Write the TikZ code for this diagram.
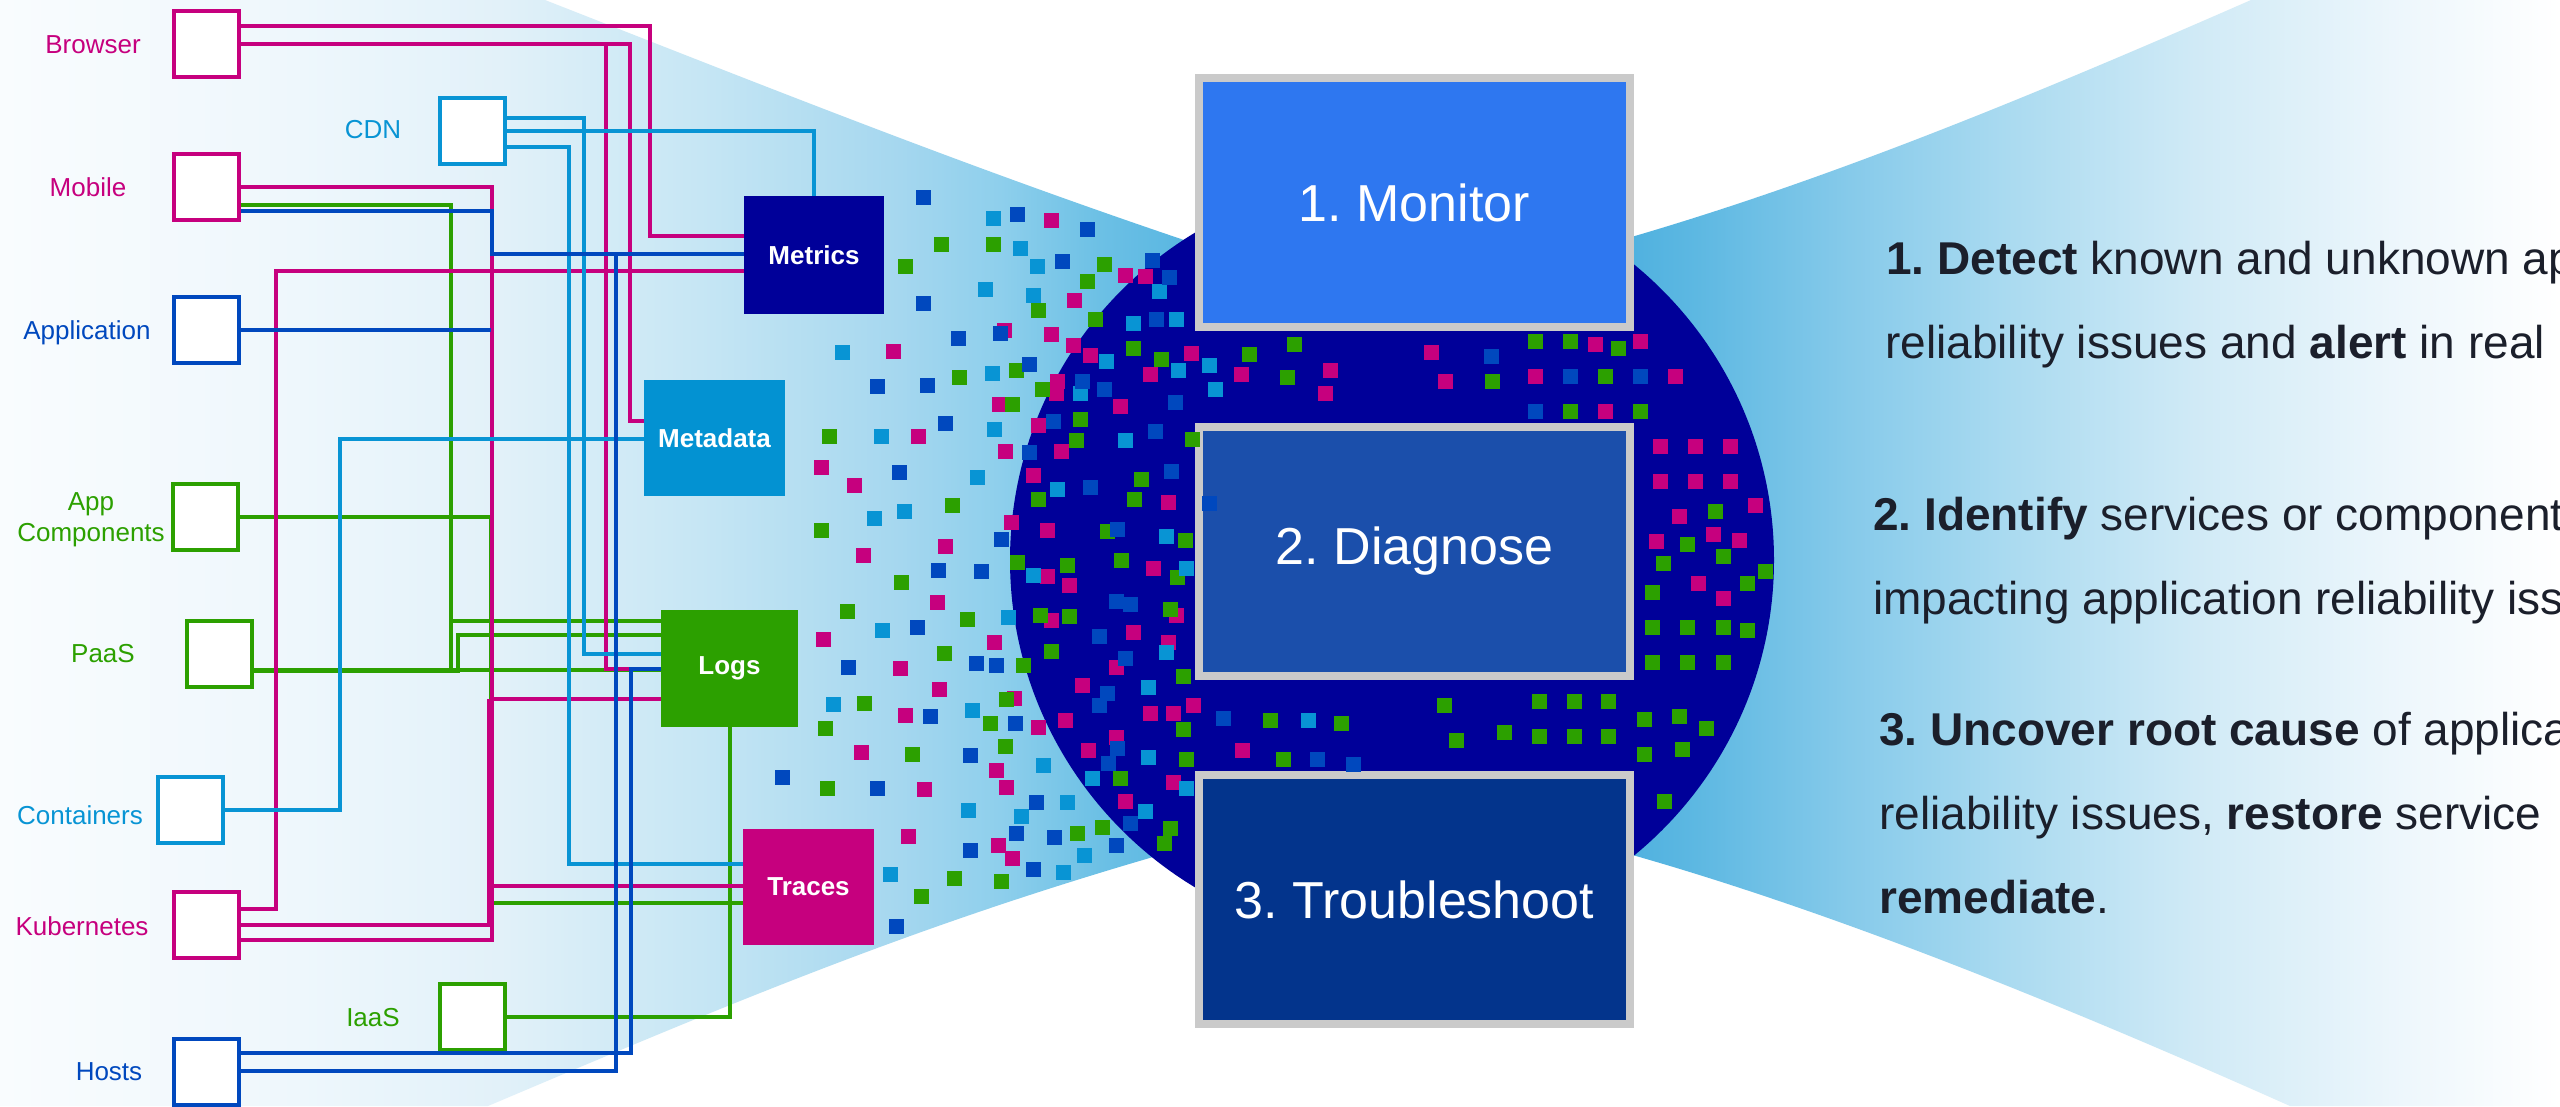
\documentclass[tikz,border=0pt]{standalone}
\usepackage{fontspec}
\setmainfont{Liberation Sans}
\frenchspacing
\definecolor{mg}{HTML}{C6007E}
\definecolor{gr}{HTML}{2CA000}
\definecolor{lb}{HTML}{0894D4}
\definecolor{bl}{HTML}{0048BE}
\definecolor{navy}{HTML}{000099}
\definecolor{mdc}{HTML}{0392D2}
\definecolor{mon}{HTML}{2E77F0}
\definecolor{dia}{HTML}{1B4FAB}
\definecolor{tro}{HTML}{03348C}
\definecolor{brd}{HTML}{CACACA}
\definecolor{txt}{HTML}{1B1F2B}
\definecolor{lfa}{HTML}{F9FCFE}
\definecolor{lfb}{HTML}{EEF7FC}
\definecolor{lfc}{HTML}{E2F1F9}
\definecolor{lfd}{HTML}{C6E6F4}
\definecolor{lfe}{HTML}{A5D7EF}
\definecolor{lff}{HTML}{8ECFEC}
\definecolor{lfg}{HTML}{6CC0E5}
\definecolor{lfh}{HTML}{4AAFDF}
\definecolor{rfa}{HTML}{4AAEDE}
\definecolor{rfb}{HTML}{5DB8E2}
\definecolor{rfc}{HTML}{86CAEA}
\definecolor{rfd}{HTML}{A9DAF0}
\definecolor{rfe}{HTML}{D0EAF6}
\definecolor{rff}{HTML}{EEF7FC}
\definecolor{rfg}{HTML}{FFFFFF}
\pgfdeclarehorizontalshading{leftfun}{100bp}{color(0bp)=(lfa); color(25bp)=(lfa); color(37bp)=(lfb); color(45bp)=(lfc); color(53bp)=(lfd); color(61bp)=(lfe); color(65bp)=(lff); color(69bp)=(lfg); color(75bp)=(lfh); color(100bp)=(lfh)}
\pgfdeclarehorizontalshading{rightfun}{100bp}{color(0bp)=(rfa); color(25bp)=(rfa); color(30bp)=(rfb); color(38bp)=(rfc); color(46bp)=(rfd); color(56bp)=(rfe); color(67bp)=(rff); color(75bp)=(rfg); color(100bp)=(rfg)}
\newcommand\sqs[2]{\foreach \x/\y in {#2} {\fill[#1] (\x-7.5,\y-7.5) rectangle ++(15,15);}}
\begin{document}
\begin{tikzpicture}[x=1pt,y=-1pt,
  src/.style={draw, line width=4pt, fill=white, minimum width=65pt, minimum height=66pt, inner sep=0pt},
  lab/.style={font=\fontsize{26}{31}\selectfont, inner sep=0pt, align=center},
  hub/.style={text=white, font=\bfseries\fontsize{26}{30}\selectfont, inner sep=0pt},
  stage/.style={draw=brd, line width=8pt, minimum width=431pt, minimum height=249pt, text=white, font=\fontsize{52}{60}\selectfont, inner sep=0pt},
  ln/.style={line width=4pt},
  rt/.style={anchor=base west, text=txt, font=\fontsize{46}{55}\selectfont, inner sep=0pt}]
\useasboundingbox (0,0) rectangle (2560,1106);
\clip (0,0) rectangle (2560,1106);
\fill[white] (0,0) rectangle (2560,1106);
% funnels
\shade[shading=leftfun] (0,0) -- (545,0) .. controls (800,100) and (1000,180) .. (1250,262) -- (1250,830) .. controls (950,910) and (750,995) .. (488,1106) -- (0,1106) -- cycle;
\shade[shading=rightfun] (1600,246) .. controls (1800,190) and (2000,110) .. (2251,0) -- (2560,0) -- (2560,1106) -- (2290,1106) .. controls (2030,990) and (1800,900) .. (1600,846) -- cycle;
\fill[navy] (1392,560) circle (382);
% source boxes
\node[src, draw=mg] (browser) at (206.5,44) {};
\node[src, draw=mg] (mobile) at (206.5,186.5) {};
\node[src, draw=bl] (app) at (206.5,329.5) {};
\node[src, draw=gr] (appc) at (205,517) {};
\node[src, draw=gr] (paas) at (219,653.5) {};
\node[src, draw=lb] (cont) at (190,809.5) {};
\node[src, draw=mg] (kube) at (206.5,924.5) {};
\node[src, draw=bl] (hosts) at (206.5,1071.5) {};
\node[src, draw=lb] (cdn) at (472.5,131) {};
\node[src, draw=gr] (iaas) at (472,1016.5) {};
% labels
\node[lab, text=mg] (lbrowser) at (93,45) {Browser};
\node[lab, text=mg] (lmobile) at (88,187) {Mobile};
\node[lab, text=bl] (lapp) at (87,333) {Application};
\node[lab, text=gr] (lappc) at (91,520) {App\\Components};
\node[lab, text=gr] (lpaas) at (103,654) {PaaS};
\node[lab, text=lb] (lcont) at (80,815) {Containers};
\node[lab, text=mg] (lkube) at (82,926) {Kubernetes};
\node[lab, text=bl] (lhosts) at (109,1072) {Hosts};
\node[lab, text=lb] (lcdn) at (373,130) {CDN};
\node[lab, text=gr] (liaas) at (373,1018) {IaaS};
% hubs
\node[hub, fill=navy, minimum width=140pt, minimum height=118pt] (metrics) at (814,255) {Metrics};
\node[hub, fill=mdc, minimum width=141pt, minimum height=116pt] (metadata) at (714.5,438) {Metadata};
\node[hub, fill=gr, minimum width=137pt, minimum height=117pt] (logs) at (729.5,668.5) {Logs};
\node[hub, fill=mg, minimum width=131pt, minimum height=116pt] (traces) at (808.5,887) {Traces};
% green connectors
\draw[ln, gr] (mobile.east|-0,205) -| (451,671);
\draw[ln, gr] (451,621) -- (logs.west|-0,621);
\draw[ln, gr] (paas.east|-0,671) -- (458,671) -- (458,635) -- (logs.west|-0,635);
\draw[ln, gr] (paas.east|-0,670) -- (logs.west|-0,670);
\draw[ln, gr] (appc.east) -| (491,903) -- (traces.west|-0,903);
\draw[ln, gr] (iaas.east) -| (logs.south);
% magenta connectors
\draw[ln, mg] (browser.east|-0,26) -| (650,236) -- (metrics.west|-0,236);
\draw[ln, mg] (browser.east|-0,44) -| (630,421) -- (metadata.west|-0,421);
\draw[ln, mg] (browser.east|-0,44) -| (606,669) -- (logs.west|-0,669);
\draw[ln, mg] (mobile.east|-0,187) -| (492,699) -- (logs.west|-0,699);
\draw[ln, mg] (kube.east|-0,909) -| (276,271) -- (metrics.west|-0,271);
\draw[ln, mg] (kube.east|-0,925) -| (489,699);
\draw[ln, mg] (kube.east|-0,940) -| (492,699);
\draw[ln, mg] (492,886) -- (traces.west|-0,886);
% light blue connectors
\draw[ln, lb] (cdn.east) -| (metrics.north);
\draw[ln, lb] (cdn.east|-0,118) -| (584,654) -- (logs.west|-0,654);
\draw[ln, lb] (cdn.east|-0,147) -| (569,864) -- (traces.west|-0,864);
\draw[ln, lb] (cont.east) -| (340,439) -- (metadata.west|-0,439);
% blue connectors
\draw[ln, bl] (mobile.east|-0,211) -| (492,254) -- (metrics.west|-0,254);
\draw[ln, bl] (app.east) -- (491,329.5);
\draw[ln, bl] (hosts.east|-0,1053) -| (631,669) -- (logs.west|-0,669);
\draw[ln, bl] (hosts.east|-0,1071) -| (616,254) -- (metrics.west|-0,254);
% stages
\node[stage, fill=mon] (monitor) at (1414.5,202.5) {1. Monitor};
\node[stage, fill=dia] (diagnose) at (1414.5,551) {2. Diagnose};
\node[stage, fill=tro] (trouble) at (1414.5,899.5) {3. Troubleshoot};
% data squares
\sqs{mg}{1051/220,1125/275,1145/276,1074/300,1004/330,1051/334,1073/345,893/351,1090/355,1191/353,1330/370,1325/393,1241/374,1150/374,1057/381,1056/393,1120/406,999/404,1038/425,918/436,1005/451,1061/451,821/467,1033/475,854/485,1168/502,1011/522,1047/530,945/546,863/555,1153/568,1047/576,1069/585,937/602,1051/620,1176/615,823/639,994/642,1133/632,1168/642,1116/667,900/668,1082/685,939/689,1014/698,905/715,1038/727,1065/720,1150/713,1173/713,1193/705,1116/737,1242/750,861/752,1088/750,996/770,924/789,1006/787,1173/782,1125/801,908/836,998/845,1012/858,1431/352,1445/381,1595/344,1640/341,1535/376,1675/376,1605/411,1660/446,1695/446,1730/446,1660/481,1695/481,1730/481,1755/505,1679/516,1656/541,1713/534,1739/540,1698/583,1723/598}
\sqs{gr}{941/244,993/244,905/266,1104/264,1087/281,1038/310,1095/319,1133/348,1161/359,1249/354,1294/344,1287/377,1016/370,959/377,1042/389,1012/404,1080/419,829/436,1076/440,1192/439,1141/479,1038/499,1134/499,952/505,821/530,1107/531,1185/540,1017/562,1067/565,1121/560,1177/577,901/582,847/611,967/619,1040/615,1069/616,1170/609,944/653,1051/651,1023/665,1183/676,864/703,1006/699,990/723,1183/729,825/728,1270/720,1341/723,1283/759,912/754,1005/746,1186/759,827/788,1120/778,1170/828,1164/843,1102/827,1077/833,1001/881,954/878,921/896,1492/381,1535/341,1570/341,1618/348,1605/376,1570/411,1640/411,1715/511,1687/544,1723/556,1663/563,1765/571,1747/583,1652/592,1652/627,1687/627,1723/627,1747/630,1652/662,1687/662,1723/662,1444/705,1539/701,1574/701,1608/701,1644/719,1679/716,1706/728,1456/740,1504/732,1539/736,1574/736,1608/736,1644/754,1682/749,1664/801}
\sqs{lb}{993/218,1020/248,1037/266,985/289,1033/295,1159/291,1133/323,1176/319,842/352,1106/361,1209/365,1215/389,1178/370,992/373,1080/393,994/429,881/436,1125/440,977/477,1057/489,874/518,904/511,1166/536,1186/568,1033/575,1008/617,882/630,1166/652,1148/687,833/704,972/710,1308/720,1148/757,1043/765,1092/778,1186/788,1067/802,968/810,1021/816,1145/811,1084/855,1063/872,890/874}
\sqs{bl}{923/197,1017/214,1087/229,1062/261,1152/260,1169/277,923/303,1156/319,1000/333,958/338,1029/364,877/386,927/385,1082/381,1104/389,1175/402,945/423,1053/421,1155/431,1029/452,899/472,1171/471,1090/487,1117/529,1001/539,1209/503,938/570,981/571,1116/601,1130/604,917/627,1099/636,1125/658,848/667,976/663,996/665,1107/693,930/716,1015/723,1099/705,1223/718,1317/759,1353/764,970/755,1117/748,1108/763,782/777,877/788,1036/802,1130/823,1054/837,1016/833,970/850,1116/845,1033/869,896/926,1491/356,1570/376,1640/376,1535/411}
% right text
\node[rt] (t1) at (1886,274) {\textbf{1. Detect} known and unknown ap};
\node[rt] (t2) at (1885,358) {reliability issues and \textbf{alert} in real};
\node[rt] (t3) at (1873,530) {\textbf{2. Identify} services or component};
\node[rt] (t4) at (1873,614) {impacting application reliability iss};
\node[rt] (t5) at (1879,745) {\textbf{3. Uncover root cause} of applica};
\node[rt] (t6) at (1879,829) {reliability issues, \textbf{restore} service};
\node[rt] (t7) at (1879,913) {\textbf{remediate}.};
\end{tikzpicture}
\end{document}
